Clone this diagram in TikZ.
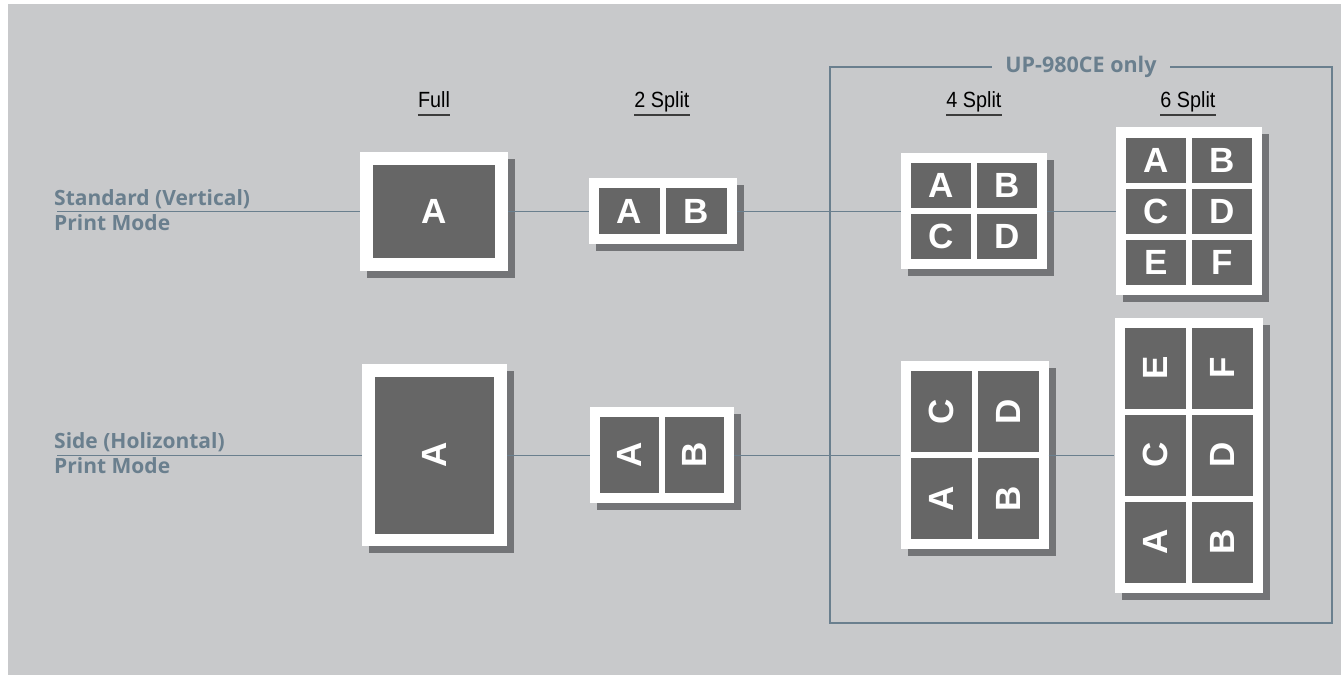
\documentclass[tikz,border=0pt]{standalone}
\usepackage{fontspec}
\setmainfont{Liberation Sans}
\newfontfamily\modefont{Open Sans}
\usetikzlibrary{shadows}

\definecolor{paper}{HTML}{C8C9CB}
\definecolor{slate}{HTML}{6A7F8E}
\definecolor{cellgray}{HTML}{666666}
\definecolor{shadowgray}{HTML}{737477}
\definecolor{rulegray}{HTML}{3C3C3C}

\begin{document}
\begin{tikzpicture}[x=1pt,y=-1pt,
	frame node/.style={rectangle,fill=white,inner sep=0pt,
		general shadow={fill=shadowgray,shadow xshift=7pt,shadow yshift=-7pt}},
	cell node/.style={rectangle,fill=cellgray,inner sep=0pt,text=white,
		font=\bfseries\fontsize{35}{35}\selectfont},
	mode label/.style={align=left,anchor=west,inner sep=0pt,text=slate,
		font=\modefont\bfseries\fontsize{21}{25}\selectfont},
	split label/.style={anchor=base,inner xsep=0pt,inner ysep=3.5pt,text depth=4.5pt,
		font=\fontsize{22}{22}\selectfont},
	link/.style={slate,line width=1pt}
	]

	\useasboundingbox (0,0) rectangle (1341,675);
	\fill[paper] (8,4) rectangle (1341,675);

	% UP-980CE box
	\draw[slate,line width=2pt] (830,67) rectangle (1332,623);
	\node[fill=paper,inner xsep=13pt,inner ysep=2pt,text=slate,
		font=\modefont\bfseries\fontsize{21.5}{21.5}\selectfont] (only) at (1081,67) {UP-980CE only};

	% column titles
	\node[split label] (tfull) at (434,107) {\scalebox{0.9}[1]{Full}};
	\node[split label] (t2) at (662,107) {\scalebox{0.9}[1]{2 Split}};
	\node[split label] (t4) at (974,107) {\scalebox{0.9}[1]{4 Split}};
	\node[split label] (t6) at (1188,107) {\scalebox{0.9}[1]{6 Split}};
	\foreach \t in {tfull,t2,t4,t6}
		\draw[rulegray,line width=2pt] (\t.south west) -- (\t.south east);

	% row titles
	\node[mode label] (stdlbl) at (54,210) {Standard (Vertical)\\Print Mode};
	\node[mode label] (sidelbl) at (54,453) {Side (Holizontal)\\Print Mode};
	\coordinate (stdstart) at (57,211);
	\coordinate (sidestart) at (57,455);

	% standard (vertical) row
	\node[frame node,minimum width=148pt,minimum height=119pt] (fullv) at (434,211) {};
	\node[cell node,minimum width=122pt,minimum height=93pt] (fullvA) at (434,211) {A};

	\node[frame node,minimum width=148pt,minimum height=66pt] (v2) at (663,211) {};
	\foreach \l/\dx in {A/-33.5,B/33.5}
		\node[cell node,minimum width=61pt,minimum height=46pt] (v2\l) at (663+\dx,211) {\l};

	\node[frame node,minimum width=146pt,minimum height=116pt] (v4) at (974,211) {};
	\foreach \l/\dx/\dy in {A/-33/-25.5,B/33/-25.5,C/-33/25.5,D/33/25.5}
		\node[cell node,minimum width=60pt,minimum height=45pt] (v4\l) at (974+\dx,211+\dy) {\l};

	\node[frame node,minimum width=146pt,minimum height=168pt] (v6) at (1189,211) {};
	\foreach \l/\dx/\dy in {A/-33/-51,B/33/-51,C/-33/0,D/33/0,E/-33/51,F/33/51}
		\node[cell node,minimum width=60pt,minimum height=45pt] (v6\l) at (1189+\dx,211+\dy) {\l};

	% side (horizontal) row
	\node[frame node,minimum width=145pt,minimum height=182pt] (fullh) at (434.5,455) {};
	\node[cell node,minimum width=119pt,minimum height=157pt] (fullhA) at (434.5,455) {\rotatebox{90}{A}};

	\node[frame node,minimum width=144pt,minimum height=96pt] (h2) at (662,455) {};
	\foreach \l/\dx in {A/-32.5,B/32.5}
		\node[cell node,minimum width=59pt,minimum height=76pt] (h2\l) at (662+\dx,455) {\rotatebox{90}{\l}};

	\node[frame node,minimum width=148pt,minimum height=188pt] (h4) at (974.5,455) {};
	\foreach \l/\dx/\dy in {C/-33.5/-43.5,D/33.5/-43.5,A/-33.5/43.5,B/33.5/43.5}
		\node[cell node,minimum width=61pt,minimum height=81pt] (h4\l) at (974.5+\dx,455+\dy) {\rotatebox{90}{\l}};

	\node[frame node,minimum width=148pt,minimum height=275pt] (h6) at (1188.5,455) {};
	\foreach \l/\dx/\dy in {E/-33.5/-87,F/33.5/-87,C/-33.5/0,D/33.5/0,A/-33.5/87,B/33.5/87}
		\node[cell node,minimum width=61pt,minimum height=81pt] (h6\l) at (1188.5+\dx,455+\dy) {\rotatebox{90}{\l}};

	% connectors
	\draw[link] (stdstart) -- (fullv);
	\draw[link] (fullv) -- (v2);
	\draw[link] (v2) -- (v4);
	\draw[link] (v4) -- (v6);
	\draw[link] (sidestart) -- (fullh);
	\draw[link] (fullh) -- (h2);
	\draw[link] (h2) -- (h4);
	\draw[link] (h4) -- (h6);
\end{tikzpicture}
\end{document}
